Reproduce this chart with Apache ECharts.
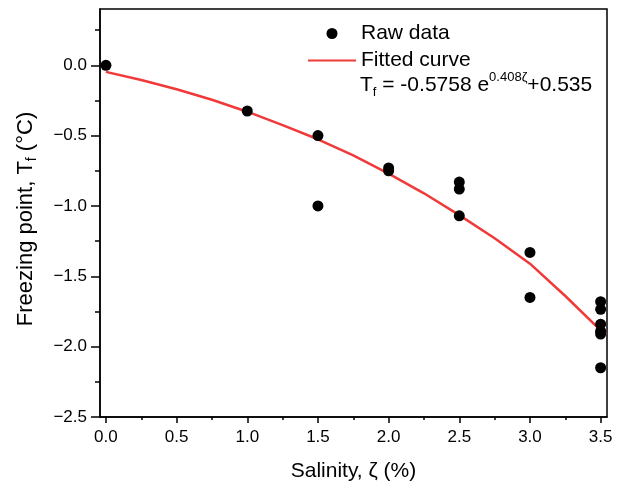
<!DOCTYPE html>
<html><head><meta charset="utf-8">
<script src="https://cdn.jsdelivr.net/npm/echarts@6/dist/echarts.min.js"></script>
<style>html,body{margin:0;padding:0;background:#fff}#c{width:627px;height:489px}</style>
</head><body><div id="c"></div>
<script>
// Raw data (salinity %, freezing point °C)
const rawX = [0, 1.0, 1.5, 1.5, 2.0, 2.0, 2.5, 2.5, 2.5, 3.0, 3.0, 3.5, 3.5, 3.5, 3.5, 3.5, 3.5];
const rawY = [0.0, -0.325, -0.50, -1.00, -0.73, -0.75, -0.83, -0.88, -1.07, -1.33, -1.65, -1.68, -1.735, -1.84, -1.89, -1.91, -2.15];
// Fitted curve
const fitX = [0, 0.25, 0.5, 0.75, 1.0, 1.25, 1.5, 1.75, 2.0, 2.25, 2.5, 2.75, 3.0, 3.25, 3.5, 3.54];
const fitY = [-0.047, -0.105, -0.17, -0.245, -0.33, -0.425, -0.526, -0.64, -0.77, -0.91, -1.065, -1.23, -1.41, -1.64, -1.885, -1.91];
const xMajor = [0, 0.5, 1.0, 1.5, 2.0, 2.5, 3.0, 3.5];
const xMinor = [0.25, 0.75, 1.25, 1.75, 2.25, 2.75, 3.25];
const yMajor = [-2.5, -2.0, -1.5, -1.0, -0.5, 0.0];
const yMinor = [-2.25, -1.75, -1.25, -0.75, -0.25, 0.25];

const FONT = 'Liberation Sans, Arial, sans-serif';
const chart = echarts.init(document.getElementById('c'));
const fmt = v => (v < 0 ? '\u2212' : '') + Math.abs(v).toFixed(1);
const baseX = {type:'value', min:-0.042, max:3.545, position:'bottom', splitLine:{show:false},
  axisLine:{onZero:false, lineStyle:{color:'#000', width:1.5}}};
const baseY = {type:'value', min:-2.5, max:0.4, position:'left', splitLine:{show:false},
  axisLine:{onZero:false, lineStyle:{color:'#000', width:1.5}}};
chart.setOption({
  animation:false,
  grid:{left:100, right:20, top:9, bottom:72, show:true, borderColor:'#000', borderWidth:1.5},
  legend:{orient:'vertical', left:302, top:18, itemWidth:48, itemHeight:11, itemGap:6,
    textStyle:{fontFamily:FONT, fontSize:21, color:'#000'},
    data:[{name:'Raw data', icon:'circle'}, {name:'Fitted curve', itemStyle:{opacity:0}}]},
  xAxis:[
    Object.assign({}, baseX, {
      name:'Salinity, \u03B6 (%)', nameLocation:'middle', nameGap:44,
      nameTextStyle:{fontFamily:FONT, fontSize:21, color:'#000'},
      axisTick:{show:true, length:6, customValues:xMajor, lineStyle:{color:'#000', width:1.5}},
      axisLabel:{customValues:xMajor, formatter:fmt, fontFamily:FONT, fontSize:17, color:'#000', margin:12}
    }),
    Object.assign({}, baseX, {
      axisLine:{show:false, onZero:false},
      axisTick:{show:true, length:3, customValues:xMinor, lineStyle:{color:'#000', width:1.5}},
      axisLabel:{show:false}
    })
  ],
  yAxis:[
    Object.assign({}, baseY, {
      name:'{a|Freezing point, T}{s|f}{a| (\u00B0C)}', nameLocation:'middle', nameGap:61,
      nameTextStyle:{fontFamily:FONT, fontSize:22, color:'#000', padding:[0,12,0,0],
        rich:{a:{fontFamily:FONT, fontSize:22, color:'#000', lineHeight:26},
              s:{fontFamily:FONT, fontSize:14, color:'#000', lineHeight:26, verticalAlign:'bottom'}}},
      axisTick:{show:true, length:9, customValues:yMajor, lineStyle:{color:'#000', width:1.5}},
      axisLabel:{customValues:yMajor, formatter:fmt, fontFamily:FONT, fontSize:17, color:'#000', margin:13}
    }),
    Object.assign({}, baseY, {
      axisLine:{show:false, onZero:false},
      axisTick:{show:true, length:5, customValues:yMinor, lineStyle:{color:'#000', width:1.5}},
      axisLabel:{show:false}
    })
  ],
  series:[
    {name:'Raw data', type:'scatter', symbol:'circle', symbolSize:11,
      itemStyle:{color:'#000', opacity:1}, data:rawX.map((x,i)=>[x, rawY[i]]), z:3},
    {name:'Fitted curve', type:'line', smooth:false, symbol:'none', showSymbol:false,
      lineStyle:{color:'#f03a3a', width:2.5}, itemStyle:{color:'#f03a3a'},
      data:fitX.map((x,i)=>[x, fitY[i]]), z:2}
  ],
  graphic:[{type:'text', left:360, top:71,
    style:{text:'{n|T}{s|f}{n| = -0.5758 e}{p|0.408\u03B6}{n|+0.535}', fill:'#000',
      rich:{n:{fontFamily:FONT, fontSize:21, lineHeight:28, fill:'#000'},
            s:{fontFamily:FONT, fontSize:13, lineHeight:28, verticalAlign:'bottom', fill:'#000'},
            p:{fontFamily:FONT, fontSize:13, lineHeight:28, verticalAlign:'top', fill:'#000'}}}}]
});
</script></body></html>
